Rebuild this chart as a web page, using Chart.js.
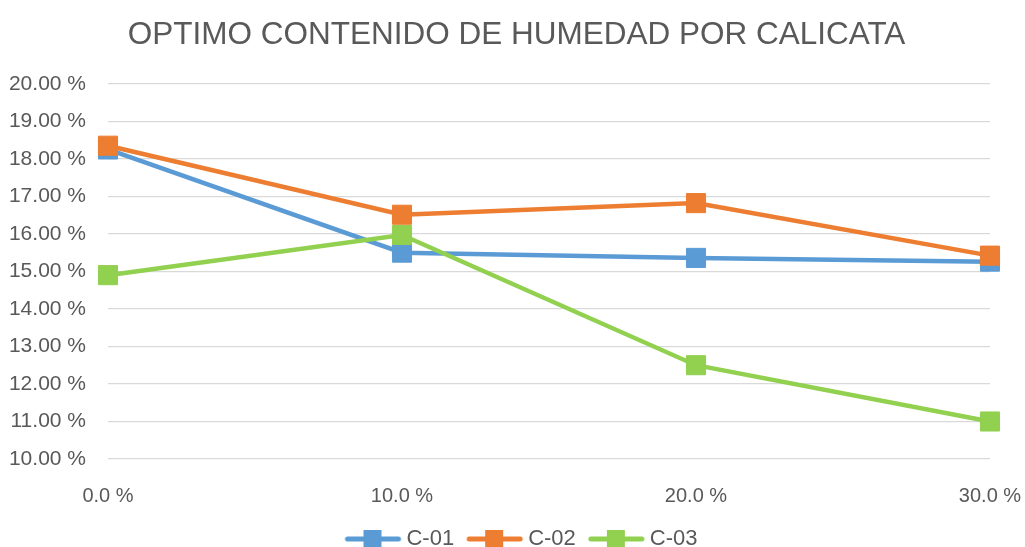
<!DOCTYPE html>
<html lang="es">
<head>
  <meta charset="UTF-8">
  <title>Optimo contenido de humedad por calicata</title>
  <style>
    html, body {
      margin: 0;
      padding: 0;
      background-color: #fff;
    }
    .chart-container {
      width: 1025px;
      height: 547px;
    }
  </style>
  <script src="https://cdn.jsdelivr.net/npm/chart.js"></script>
</head>
<body>
<div class="chart-container">
  <canvas id="humedadChart"></canvas>
</div>

<script>
  // Datos
  const porcentajes = ['0.0 %', '10.0 %', '20.0 %', '30.0 %'];
  const series = ['C-01', 'C-02', 'C-03'];
  const c01 = [18.25, 15.50, 15.36, 15.26];
  const c02 = [18.35, 16.51, 16.82, 15.42];
  const c03 = [14.90, 15.97, 12.50, 11.00];
  const colores = ['#5B9BD5', '#ED7D31', '#92D050'];

  const textoColor = '#595959';
  const fuente = "'Liberation Sans', Arial, sans-serif";

  // Icono de leyenda: línea con marcador cuadrado (con margen a la izquierda)
  function iconoLeyenda(color) {
    const c = document.createElement('canvas');
    c.width = 80;
    c.height = 20;
    const ctx = c.getContext('2d');
    ctx.strokeStyle = color;
    ctx.lineWidth = 5;
    ctx.lineCap = 'round';
    ctx.beginPath();
    ctx.moveTo(22, 10);
    ctx.lineTo(73, 10);
    ctx.stroke();
    ctx.fillStyle = color;
    ctx.fillRect(38, 1, 18, 18);
    return c;
  }

  const valores = [c01, c02, c03];
  const datasets = series.map((nombre, i) => ({
    label: nombre,
    data: valores[i],
    borderColor: colores[i],
    backgroundColor: colores[i],
    borderWidth: 4.5,
    pointStyle: 'rect',
    pointRadius: 13.5,
    pointBorderWidth: 1,
    pointHoverRadius: 13.5,
    tension: 0,
    fill: false,
    order: series.length - i
  }));

  const config = {
    type: 'line',
    data: { labels: porcentajes, datasets: datasets },
    options: {
      responsive: false,
      animation: false,
      layout: { padding: { left: 8, right: 0, top: 0, bottom: -13 } },
      plugins: {
        title: {
          display: true,
          text: 'OPTIMO CONTENIDO DE HUMEDAD POR CALICATA',
          color: textoColor,
          font: { family: fuente, size: 31.5, weight: 'normal' },
          padding: { top: 16, bottom: 30 }
        },
        legend: {
          position: 'bottom',
          labels: {
            usePointStyle: true,
            pointStyleWidth: 60,
            color: textoColor,
            font: { family: fuente, size: 22 },
            padding: 3,
            generateLabels: (chart) => chart.data.datasets.map((ds, i) => ({
              text: ds.label,
              fillStyle: ds.borderColor,
              strokeStyle: ds.borderColor,
              pointStyle: iconoLeyenda(ds.borderColor),
              fontColor: textoColor,
              lineWidth: 0,
              datasetIndex: i,
              hidden: false
            }))
          }
        },
        tooltip: { enabled: false }
      },
      scales: {
        x: {
          offset: false,
          afterFit: (scale) => { scale.paddingRight = 35; },
          grid: { display: false },
          border: { display: false },
          ticks: {
            color: textoColor,
            font: { family: fuente, size: 20 },
            padding: 17,
            maxRotation: 0
          }
        },
        y: {
          min: 10,
          max: 20,
          afterFit: (scale) => { scale.width = 100; },
          grid: { color: '#D9D9D9', lineWidth: 1.3, drawTicks: false },
          border: { display: false },
          ticks: {
            stepSize: 1,
            color: textoColor,
            font: { family: fuente, size: 21 },
            padding: 22,
            callback: (v) => v.toFixed(2) + ' %'
          }
        }
      }
    }
  };

  const canvas = document.getElementById('humedadChart');
  canvas.width = 1025;
  canvas.height = 547;
  new Chart(canvas.getContext('2d'), config);
</script>
</body>
</html>
